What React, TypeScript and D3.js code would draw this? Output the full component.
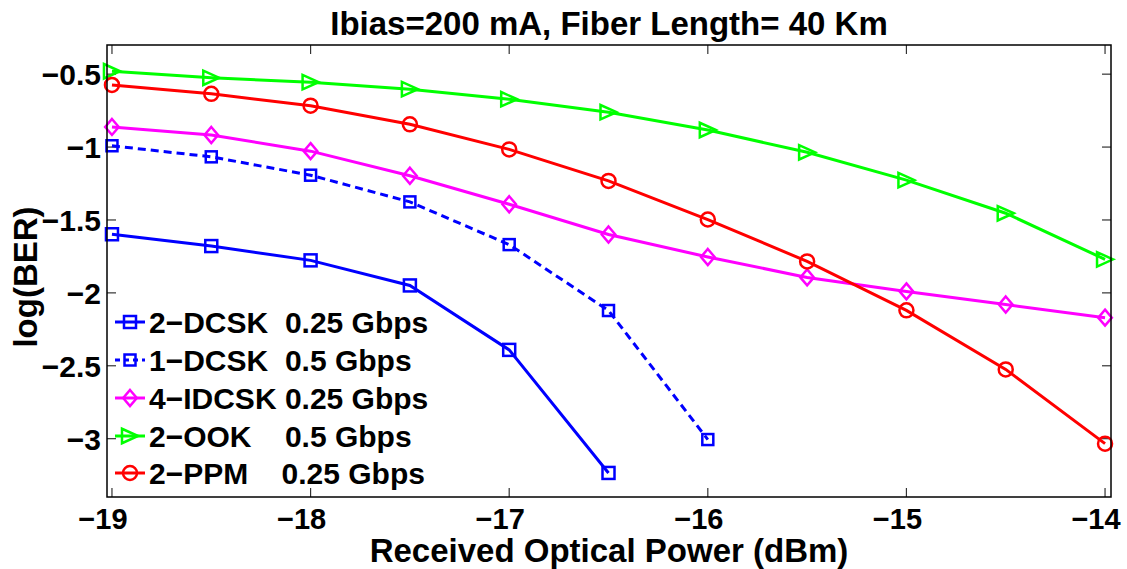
import React from "react";
import * as d3 from "d3";

const xValues = [-19, -18.5, -18, -17.5, -17, -16.5, -16, -15.5, -15, -14.5, -14];
const dcsk2 = [-1.598, -1.679, -1.777, -1.949, -2.391, -3.235];
const dcsk1 = [-0.991, -1.067, -1.193, -1.376, -1.669, -2.121, -3.006];
const idcsk4 = [-0.862, -0.917, -1.028, -1.197, -1.392, -1.6, -1.754, -1.894, -1.99, -2.08, -2.17];
const ook2 = [-0.48, -0.525, -0.555, -0.603, -0.672, -0.761, -0.883, -1.036, -1.227, -1.454, -1.77];
const ppm2 = [-0.574, -0.635, -0.716, -0.844, -1.016, -1.232, -1.497, -1.784, -2.12, -2.525, -3.034];

const xTicks = [-19, -18, -17, -16, -15, -14];
const yTicks = [-3, -2.5, -2, -1.5, -1, -0.5];
const legendLabels = [
  "2\u2212DCSK  0.25 Gbps",
  "1\u2212DCSK  0.5 Gbps",
  "4\u2212IDCSK 0.25 Gbps",
  "2\u2212OOK    0.5 Gbps",
  "2\u2212PPM    0.25 Gbps",
];
const titleText = "Ibias=200 mA, Fiber Length= 40 Km";
const xLabel = "Received Optical Power (dBm)";
const yLabel = "log(BER)";

type Marker = "square" | "diamond" | "triangle" | "circle";
const series: { values: number[]; color: string; dash?: string; marker: Marker; msize: number }[] = [
  { values: dcsk2, color: "#0000ff", marker: "square", msize: 12 },
  { values: dcsk1, color: "#0000ff", dash: "8,5", marker: "square", msize: 11 },
  { values: idcsk4, color: "#ff00ff", marker: "diamond", msize: 16 },
  { values: ook2, color: "#00ff00", marker: "triangle", msize: 16 },
  { values: ppm2, color: "#ff0000", marker: "circle", msize: 14 },
];

const FONT = "'Liberation Sans', Arial, Helvetica, sans-serif";

function MarkerShape({ type, x, y, s, color }: { type: Marker; x: number; y: number; s: number; color: string }) {
  const h = s / 2;
  const common = { fill: "none", stroke: color, strokeWidth: 2.5 };
  if (type === "square") return <rect x={x - h} y={y - h} width={s} height={s} {...common} />;
  if (type === "circle") return <circle cx={x} cy={y} r={h} {...common} />;
  if (type === "diamond") {
    const w = h * 0.85;
    return <path d={`M${x},${y - h}L${x + w},${y}L${x},${y + h}L${x - w},${y}Z`} {...common} />;
  }
  const w = h;
  return <path d={`M${x + w},${y}L${x - w},${y - h * 0.9}L${x - w},${y + h * 0.9}Z`} {...common} />;
}

export default function App() {
  const W = 1127, H = 569;
  const L = 107, R = 1111, T = 45, B = 497;
  const x = d3.scaleLinear().domain([-19.025, -13.97]).range([L, R]);
  const y = d3.scaleLinear().domain([-3.4, -0.3]).range([B, T]);
  const line = d3.line<[number, number]>().x(d => x(d[0])).y(d => y(d[1]));
  const tickLen = 9;
  const legendY = [322, 360, 398, 436, 473];

  return (
    <div style={{ position: "absolute", left: 0, top: 0 }}>
      <svg width={W} height={H} style={{ display: "block", background: "#fff" }} fontFamily={FONT}>
        <rect x={0} y={0} width={W} height={H} fill="#fff" />
        {xTicks.map(t => (
          <g key={"xt" + t}>
            <line x1={x(t)} x2={x(t)} y1={B} y2={B - tickLen} stroke="#333" strokeWidth={1.2} />
            <line x1={x(t)} x2={x(t)} y1={T} y2={T + tickLen} stroke="#333" strokeWidth={1.2} />
            <text x={x(t) - 9} y={529} textAnchor="middle" fontSize={29} fontWeight="bold">
              {"\u2212" + Math.abs(t)}
            </text>
          </g>
        ))}
        {yTicks.map(t => (
          <g key={"yt" + t}>
            <line x1={L} x2={L + tickLen} y1={y(t)} y2={y(t)} stroke="#333" strokeWidth={1.2} />
            <line x1={R} x2={R - tickLen} y1={y(t)} y2={y(t)} stroke="#333" strokeWidth={1.2} />
            <text x={101} y={y(t) + 11} textAnchor="end" fontSize={30} fontWeight="bold">
              {"\u2212" + Math.abs(t)}
            </text>
          </g>
        ))}
        {series.map((s, i) => {
          const pts: [number, number][] = s.values.map((v, j) => [xValues[j], v]);
          return (
            <g key={"s" + i}>
              <path d={line(pts) || ""} fill="none" stroke={s.color} strokeWidth={3} strokeDasharray={s.dash} />
              {pts.map((p, j) => (
                <MarkerShape key={j} type={s.marker} x={x(p[0])} y={y(p[1])} s={s.msize} color={s.color} />
              ))}
            </g>
          );
        })}
        <rect x={L} y={T} width={R - L} height={B - T} fill="none" stroke="#000" strokeWidth={1.5} />
        {series.map((s, i) => (
          <g key={"lg" + i}>
            <line x1={115} x2={145} y1={legendY[i]} y2={legendY[i]} stroke={s.color} strokeWidth={3} strokeDasharray={s.dash ? "5,4" : undefined} />
            <MarkerShape type={s.marker} x={130} y={legendY[i]} s={s.msize} color={s.color} />
            <text x={149} y={legendY[i] + 11} fontSize={30} fontWeight="bold" style={{ whiteSpace: "pre" }}>
              {legendLabels[i]}
            </text>
          </g>
        ))}
        <text x={(L + R) / 2} y={35} textAnchor="middle" fontSize={33} fontWeight="bold">{titleText}</text>
        <text x={(L + R) / 2} y={562} textAnchor="middle" fontSize={33} fontWeight="bold">{xLabel}</text>
        <text transform={`translate(37,${(T + B) / 2 + 6}) rotate(-90)`} textAnchor="middle" fontSize={33} fontWeight="bold">{yLabel}</text>
      </svg>
    </div>
  );
}
